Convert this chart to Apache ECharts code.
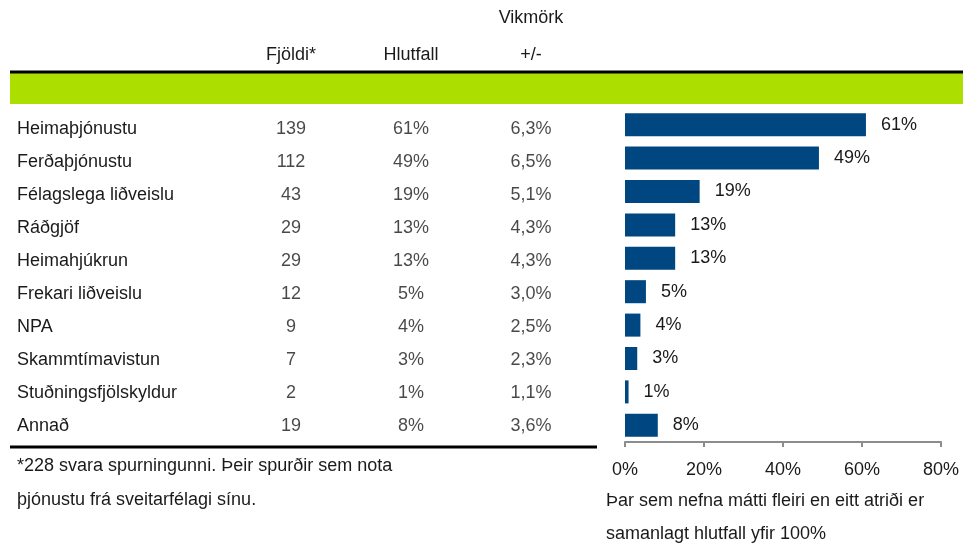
<!DOCTYPE html>
<html>
<head>
<meta charset="utf-8">
<script src="https://cdn.jsdelivr.net/npm/echarts@6/dist/echarts.min.js"></script>
<style>
  html, body { margin: 0; padding: 0; background: #fff; }
  #chart { width: 963px; height: 544px; }
</style>
</head>
<body>
<div id="chart"></div>
<script>
// table rows
const categories = ['Heimaþjónustu', 'Ferðaþjónustu', 'Félagslega liðveislu', 'Ráðgjöf', 'Heimahjúkrun',
  'Frekari liðveislu', 'NPA', 'Skammtímavistun', 'Stuðningsfjölskyldur', 'Annað'];
const columns = ['Fjöldi*', 'Hlutfall', 'Vikmörk\n+/-'];
const counts = [139, 112, 43, 29, 29, 12, 9, 7, 2, 19];
const shareLabels = ['61%', '49%', '19%', '13%', '13%', '5%', '4%', '3%', '1%', '8%'];
const margins = ['6,3%', '6,5%', '5,1%', '4,3%', '4,3%', '3,0%', '2,5%', '2,3%', '1,1%', '3,6%'];
// bar lengths (percent)
const shares = [61.0, 49.1, 18.9, 12.7, 12.7, 5.3, 3.9, 3.1, 0.9, 8.3];
const xTicks = [0, 20, 40, 60, 80];

const FONT = '"Liberation Sans", Arial, sans-serif';
const TXT = '#1a1a1a';
const FS = 18;

// one scatter point per table cell, label shows the text
const cells = [];
categories.forEach((c, i) => {
  cells.push({ value: [0, i], label: { formatter: String(counts[i]) } });
  cells.push({ value: [1, i], label: { formatter: shareLabels[i] } });
  cells.push({ value: [2, i], label: { formatter: margins[i] } });
});

const chart = echarts.init(document.getElementById('chart'));

const option = {
  animation: false,
  textStyle: { fontFamily: FONT },
  grid: [
    { left: 231, width: 360, top: 108, bottom: 102 },
    { left: 625, right: 22, top: 108, bottom: 102 }
  ],
  xAxis: [
    {
      gridIndex: 0,
      type: 'category',
      position: 'top',
      data: columns,
      axisLine: { show: false },
      axisTick: { show: false },
      axisLabel: {
        color: TXT, fontSize: FS, fontFamily: FONT,
        lineHeight: 37, margin: 39, verticalAlign: 'bottom'
      }
    },
    {
      gridIndex: 1,
      type: 'value',
      min: 0,
      max: 80,
      interval: 20,
      axisLine: { show: true, lineStyle: { color: '#8c8c8c', width: 2 } },
      axisTick: { show: true, length: 5, lineStyle: { color: '#8c8c8c', width: 2 } },
      splitLine: { show: false },
      axisLabel: {
        color: TXT, fontSize: FS, fontFamily: FONT, margin: 19,
        formatter: v => xTicks.includes(v) ? v + '%' : ''
      }
    }
  ],
  yAxis: [
    {
      gridIndex: 0,
      type: 'category',
      inverse: true,
      data: categories,
      axisLine: { show: false },
      axisTick: { show: false },
      axisLabel: {
        color: TXT, fontSize: FS, fontFamily: FONT,
        align: 'left', margin: 214
      }
    },
    {
      gridIndex: 1,
      type: 'category',
      inverse: true,
      data: categories,
      axisLine: { show: false },
      axisTick: { show: false },
      axisLabel: { show: false }
    }
  ],
  series: [
    {
      type: 'scatter',
      xAxisIndex: 0,
      yAxisIndex: 0,
      symbolSize: 0,
      silent: true,
      data: cells,
      label: {
        show: true, position: 'inside',
        color: TXT, fontSize: FS, fontFamily: FONT
      }
    },
    {
      type: 'bar',
      xAxisIndex: 1,
      yAxisIndex: 1,
      data: shares,
      barCategoryGap: '31%',
      itemStyle: { color: '#004680' },
      label: {
        show: true, position: 'right', distance: 15,
        color: TXT, fontSize: FS, fontFamily: FONT,
        formatter: p => Math.round(p.value) + '%'
      }
    }
  ],
  graphic: [
    { type: 'rect', z: -1, shape: { x: 10, y: 73, width: 953, height: 31 }, style: { fill: '#acdf00' } },
    { type: 'line', shape: { x1: 10, y1: 72, x2: 963, y2: 72 }, style: { stroke: '#000', lineWidth: 3 } },
    { type: 'line', shape: { x1: 10, y1: 447, x2: 597, y2: 447 }, style: { stroke: '#000', lineWidth: 3 } },
    { type: 'text', left: 17, top: 457, style: { text: '*228 svara spurningunni. Þeir spurðir sem nota', fill: TXT, font: FS + 'px ' + FONT } },
    { type: 'text', left: 17, top: 491, style: { text: 'þjónustu frá sveitarfélagi sínu.', fill: TXT, font: FS + 'px ' + FONT } },
    { type: 'text', left: 606, top: 492, style: { text: 'Þar sem nefna mátti fleiri en eitt atriði er', fill: TXT, font: FS + 'px ' + FONT } },
    { type: 'text', left: 606, top: 525, style: { text: 'samanlagt hlutfall yfir 100%', fill: TXT, font: FS + 'px ' + FONT } }
  ]
};

chart.setOption(option);
</script>
</body>
</html>
